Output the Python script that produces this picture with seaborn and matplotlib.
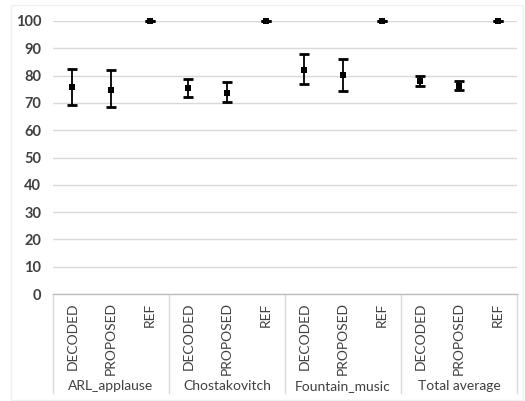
import matplotlib
matplotlib.use("Agg")
import matplotlib.pyplot as plt
import matplotlib.transforms as mtransforms
import pandas as pd
import seaborn as sns

# data
groups = ["ARL_applause", "Chostakovitch", "Fountain_music", "Total average"]
methods = ["DECODED", "PROPOSED", "REF"]
means = [75.7, 74.8, 100.0,
         75.3, 73.6, 100.0,
         82.2, 80.1, 100.0,
         78.0, 76.1, 100.0]
upper = [82.6, 82.2, 100.0,
         78.7, 77.5, 100.0,
         87.8, 86.0, 100.0,
         79.7, 78.0, 100.0]
lower = [69.3, 68.5, 100.0,
         72.3, 70.3, 100.0,
         77.0, 74.5, 100.0,
         76.1, 74.7, 100.0]

rows = []
for gi, g in enumerate(groups):
    for mi, m in enumerate(methods):
        k = gi * len(methods) + mi
        rows.append({"group": g, "method": m, "pos": k,
                     "mean": means[k], "hi": upper[k], "lo": lower[k]})
df = pd.DataFrame(rows)

sns.set_theme(style="white")
plt.rcParams["font.family"] = ["Lato", "DejaVu Sans"]

fig = plt.figure(figsize=(5.25, 4.01), dpi=100)
ax = fig.add_axes([53 / 525, (401 - 294) / 401, (517 - 53) / 525, (294 - 21) / 401])

grid_c = "#d9d9d9"
text_c = "#404040"

ax.errorbar(df["pos"], df["mean"],
            yerr=[df["mean"] - df["lo"], df["hi"] - df["mean"]],
            fmt="none", ecolor="black", elinewidth=1.3, capsize=3.3,
            capthick=2.0, clip_on=False, zorder=3)
sns.scatterplot(data=df, x="pos", y="mean", marker="s", color="black",
                s=20, linewidth=0, ax=ax, clip_on=False, zorder=4, legend=False)

ax.set_xlim(-0.5, len(df) - 0.5)
ax.set_ylim(0, 100)
ax.set_yticks(range(0, 101, 10))
ax.yaxis.grid(True, color=grid_c, linewidth=1)
ax.set_axisbelow(True)
for s in ["top", "right", "left"]:
    ax.spines[s].set_visible(False)
ax.spines["bottom"].set_color("#bfbfbf")
ax.spines["bottom"].set_linewidth(1)

ax.set_xlabel("")
ax.set_ylabel("")
ax.set_xticks(df["pos"])
ax.set_xticklabels(df["method"], rotation=90, va="top", ha="center",
                   fontsize=10, color=text_c)
ax.tick_params(axis="x", length=0, pad=6)
ax.tick_params(axis="y", length=0, pad=8.5, labelsize=10.5, labelcolor=text_c)
for t in ax.get_yticklabels():
    t.set_fontweight("bold")

# group separators and group labels under the axis
trans = mtransforms.blended_transform_factory(ax.transData, ax.transAxes)
n = len(methods)
depth = -(393 - 294) / (294 - 21)
for gi in range(len(groups) + 1):
    xs = gi * n - 0.5
    ax.plot([xs, xs], [0, depth], transform=trans, color=grid_c,
            linewidth=1, clip_on=False)
for gi, g in enumerate(groups):
    ax.text(gi * n + (n - 1) / 2, -(386 - 294) / (294 - 21), g,
            transform=trans, ha="center", va="center", fontsize=10,
            color=text_c)

# faint chart frame
fig.patches.append(plt.Rectangle((11 / 525, 1 / 401), 512 / 525, 395 / 401,
                                 transform=fig.transFigure, fill=False,
                                 edgecolor="#f0f0f0", linewidth=1))

fig.savefig("out.png", dpi=100)
